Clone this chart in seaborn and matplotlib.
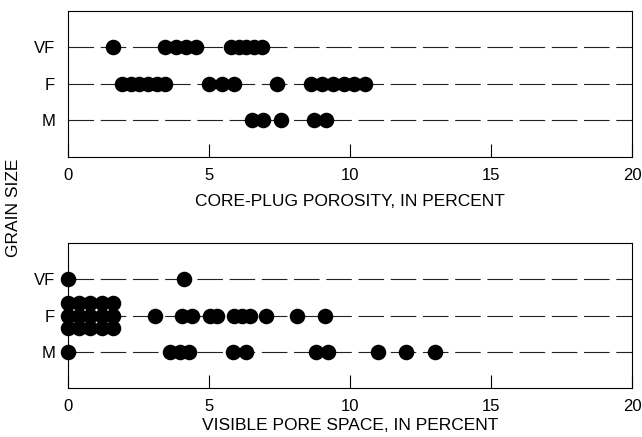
import numpy as np
import pandas as pd
import matplotlib
matplotlib.use("Agg")
import matplotlib.pyplot as plt
import seaborn as sns

# ---- data ----
grain_sizes = ["VF", "F", "M"]

porosity_vf = [1.62, 3.46, 3.82, 4.18, 4.54, 5.78, 6.05, 6.33, 6.60, 6.88]
porosity_f = [1.92, 2.23, 2.54, 2.85, 3.15, 3.46, 5.01, 5.46, 5.90, 7.42,
              8.62, 9.00, 9.39, 9.77, 10.15, 10.54]
porosity_m = [6.52, 6.92, 7.54, 8.71, 9.14]

pore_vf = [0.0, 4.12]
pore_f = [0.0, 0.0, 0.0, 0.4, 0.4, 0.4, 0.8, 0.8, 0.8, 1.2, 1.2, 1.2,
          1.6, 1.6, 1.6, 3.09, 4.04, 4.39, 5.04, 5.30, 5.89, 6.18, 6.45,
          7.04, 8.13, 9.12]
pore_m = [0.0, 3.63, 3.97, 4.31, 5.86, 6.33, 8.78, 9.23, 11.00, 11.99, 13.02]

x_ticks = [0, 5, 10, 15, 20]
x_labels = ["CORE-PLUG POROSITY, IN PERCENT", "VISIBLE PORE SPACE, IN PERCENT"]
y_title = "GRAIN SIZE"


def build(series):
    rows = []
    for gi, vals in enumerate(series):
        counts = pd.Series(vals).value_counts()
        seen = {}
        for v in vals:
            n = counts[v]
            k = seen.get(v, 0)
            seen[v] = k + 1
            off = (k - (n - 1) / 2) * 0.34 if n > 1 else 0.0
            rows.append({"value": v, "pos": gi + off, "grain": grain_sizes[gi]})
    return pd.DataFrame(rows)


df_top = build([porosity_vf, porosity_f, porosity_m])
df_bot = build([pore_vf, pore_f, pore_m])

sns.set_theme(style="white")
plt.rcParams["font.family"] = ["Liberation Sans", "DejaVu Sans"]

fig = plt.figure(figsize=(6.42, 4.37), dpi=100)
ax1 = fig.add_axes([0.1055, 0.6414, 0.8794, 0.3334])
ax2 = fig.add_axes([0.1055, 0.1114, 0.8794, 0.3332])

for ax, df, xl, lp in [(ax1, df_top, x_labels[0], 8), (ax2, df_bot, x_labels[1], 2.5)]:
    ax.hlines(range(len(grain_sizes)), 0, 20, colors="#222222", linewidth=0.8,
              linestyles=(0, (23, 6)), zorder=1)
    sns.scatterplot(data=df, x="value", y="pos", ax=ax, color="black",
                    s=125, linewidth=0, zorder=3, clip_on=False, legend=False)
    ax.set_xlim(0, 20)
    ax.set_ylim(3, -1)
    ax.set_xticks(x_ticks)
    ax.set_xticklabels([str(t) for t in x_ticks])
    ax.set_yticks(range(len(grain_sizes)))
    ax.set_yticklabels(grain_sizes)
    ax.tick_params(axis="x", direction="in", length=9.5, width=0.8,
                   color="black", pad=8, labelsize=12, labelcolor="black",
                   bottom=True)
    ax.tick_params(axis="y", length=0, pad=9, labelsize=12, labelcolor="black")
    ax.set_xlabel(xl, fontsize=12.5, color="black", labelpad=lp)
    ax.set_ylabel("")
    for sp in ax.spines.values():
        sp.set_visible(True)
        sp.set_color("black")
        sp.set_linewidth(0.8)

fig.text(14 / 642, 1 - 208 / 437, y_title, rotation=90, ha="center",
         va="center", fontsize=12.5, color="black")

fig.savefig("out.png", dpi=100)
